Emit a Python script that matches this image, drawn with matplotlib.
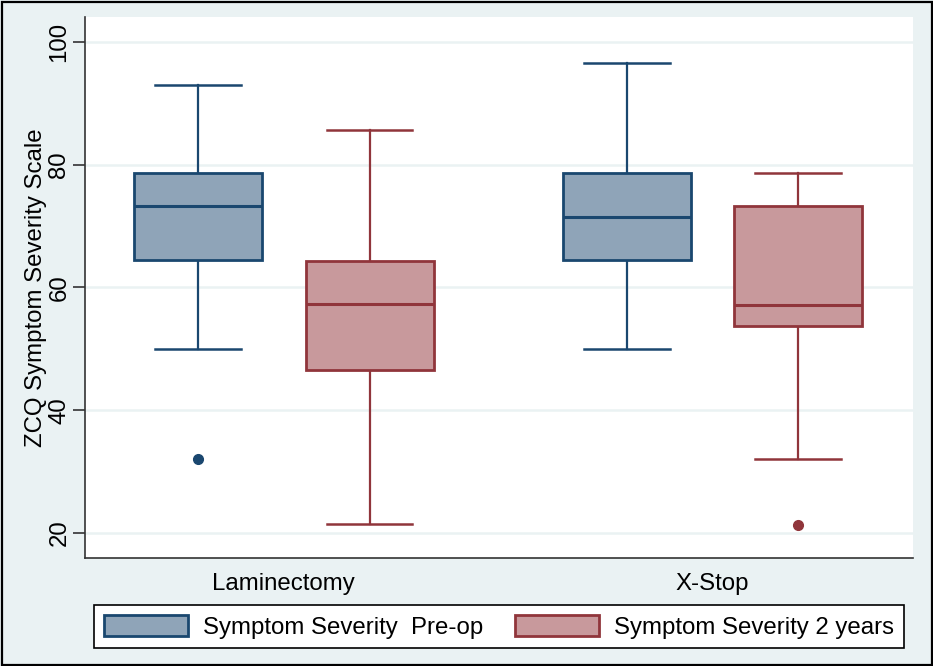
import matplotlib
matplotlib.use('Agg')
import matplotlib.pyplot as plt
from matplotlib.patches import Patch, Rectangle

plt.rcParams['font.family'] = ['Liberation Sans', 'DejaVu Sans']

# ---- data ----
groups = ['Laminectomy', 'X-Stop']
series = ['Symptom Severity  Pre-op', 'Symptom Severity 2 years']
# [whisker low, Q1, median, Q3, whisker high]
lam_preop = [50.0, 64.5, 73.3, 78.7, 93.0]
lam_2yr = [21.4, 46.6, 57.3, 64.3, 85.7]
xs_preop = [50.0, 64.5, 71.5, 78.7, 96.6]
xs_2yr = [32.1, 53.7, 57.2, 73.2, 78.6]
lam_preop_out = [32.0]
lam_2yr_out = []
xs_preop_out = []
xs_2yr_out = [21.3]
yticks = [20, 40, 60, 80, 100]
ylabel = 'ZCQ Symptom Severity Scale'

# ---- style ----
BG = '#EAF2F3'
edge_cols = ['#1A476F', '#90353B']
fill_cols = ['#8FA4B8', '#C8999C']
FS = 17.3

fig = plt.figure(figsize=(9.33, 6.66), dpi=100, facecolor=BG)
W, H = 933, 666
ax = fig.add_axes([85 / W, 1 - 558 / H, 827.7 / W, (558 - 16.7) / H])
ax.set_facecolor('white')

boxes = [lam_preop, lam_2yr, xs_preop, xs_2yr]
outs = [lam_preop_out, lam_2yr_out, xs_preop_out, xs_2yr_out]
positions = [0, 1, 2.5, 3.5]
stats = []
for b, o in zip(boxes, outs):
    stats.append(dict(whislo=b[0], q1=b[1], med=b[2], q3=b[3], whishi=b[4], fliers=o))

res = ax.bxp(stats, positions=positions, widths=0.747, capwidths=0.5,
             patch_artist=True, showfliers=True)
for i in range(4):
    s = i % 2
    ec, fc = edge_cols[s], fill_cols[s]
    res['boxes'][i].set(facecolor=fc, edgecolor=ec, linewidth=2.0, zorder=3)
    res['medians'][i].set(color=ec, linewidth=2.2, zorder=4)
    for w in res['whiskers'][2 * i:2 * i + 2]:
        w.set(color=ec, linewidth=1.6, zorder=2)
    for c in res['caps'][2 * i:2 * i + 2]:
        c.set(color=ec, linewidth=1.8, zorder=2)
    res['fliers'][i].set(marker='o', markerfacecolor=ec, markeredgecolor=ec,
                         markersize=7, zorder=4)

ax.set_xlim(-0.66, 4.168)
ax.set_ylim(15.93, 104.07)
ax.set_yticks(yticks)
ax.set_yticklabels([str(t) for t in yticks], rotation=90, va='center', fontsize=FS)
ax.set_xticks([0.5, 3.0])
ax.set_xticklabels(groups, fontsize=FS)
ax.tick_params(axis='x', length=0, pad=11)
ax.tick_params(axis='y', length=9, width=1.2, direction='out', color='#333333', pad=1.5)
ax.yaxis.grid(True, color=BG, linewidth=1.8, zorder=0)
ax.set_axisbelow(True)
for sp in ['top', 'right']:
    ax.spines[sp].set_visible(False)
for sp in ['left', 'bottom']:
    ax.spines[sp].set_color('#333333')
    ax.spines[sp].set_linewidth(1.2)
ax.set_ylabel(ylabel, fontsize=FS)
ax.yaxis.set_label_coords(-0.046, 0.5)

handles = [Patch(facecolor=fill_cols[i], edgecolor=edge_cols[i], linewidth=2.0, label=series[i])
           for i in range(2)]
leg = fig.legend(handles=handles, loc='center', bbox_to_anchor=(499 / W, 1 - 626.7 / H),
                 ncol=2, fontsize=FS, frameon=True, fancybox=False, shadow=False,
                 handlelength=3.5, handleheight=0.95, handletextpad=0.65,
                 columnspacing=1.3, borderpad=0.4, borderaxespad=0)
leg.get_frame().set_edgecolor('black')
leg.get_frame().set_linewidth(1.2)
leg.get_frame().set_facecolor('white')
leg.get_frame().set_alpha(1)

fig.patches.append(Rectangle((1.5 / W, 1.5 / H), 1 - 3 / W, 1 - 3.5 / H, transform=fig.transFigure,
                             fill=False, edgecolor='black', linewidth=1.6))

fig.savefig('out.png', dpi=100, facecolor=BG)
